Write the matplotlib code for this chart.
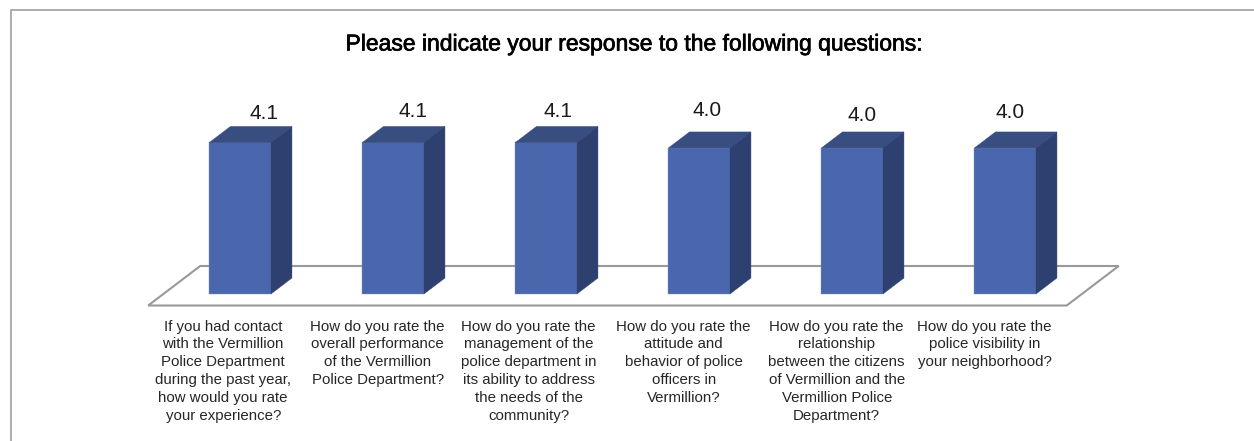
import matplotlib
matplotlib.use("Agg")
import matplotlib.pyplot as plt
import matplotlib.patheffects as pe
from matplotlib.patches import Polygon
from matplotlib.lines import Line2D

title = "Please indicate your response to the following questions:"
questions = [
    "If you had contact\nwith the Vermillion\nPolice Department\nduring the past year,\nhow would you rate\nyour experience?",
    "How do you rate the\noverall performance\nof the Vermillion\nPolice Department?",
    "How do you rate the\nmanagement of the\npolice department in\nits ability to address\nthe needs of the\ncommunity?",
    "How do you rate the\nattitude and\nbehavior of police\nofficers in\nVermillion?",
    "How do you rate the\nrelationship\nbetween the citizens\nof Vermillion and the\nVermillion Police\nDepartment?",
    "How do you rate the\npolice visibility in\nyour neighborhood?",
]
values = [4.13, 4.13, 4.13, 3.98, 3.98, 3.98]

W, H = 1254, 441
PX_X, PX_Y = 153.0, 36.7      # pixels per category / per value unit
X0_PX, Y0_PX = 240.2, 147.0   # pixel position of category 0 / value 0 (from bottom-left)
BAR_W = 61.5 / PX_X
DX, DY = 21 / PX_X, 16 / PX_Y
FRONT, TOP, SIDE, EDGE = "#4A67AE", "#384D80", "#2E4070", "#7F93C6"
GREY = "#999999"

# per-bar label nudges (pixels), matching the hand-placed labels of the original
value_dx = [24, 19.5, 11.5, 8, 10, 5]
value_dy = [-10, -8, -8, -1, -6, -3]
label_dx = [-17, -15.5, -17.5, -15.5, -15.5, -20.5]

plt.rcParams["font.family"] = ["Liberation Sans", "DejaVu Sans"]
fig = plt.figure(figsize=(W / 100, H / 100), dpi=100, facecolor="white")
ax = fig.add_axes([0, 0, 1, 1])
ax.set_xlim(-X0_PX / PX_X, (W - X0_PX) / PX_X)
ax.set_ylim(-Y0_PX / PX_Y, (H - Y0_PX) / PX_Y)
ax.axis("off")

# frame of the original picture
fig.add_artist(Line2D([11 / W, 11 / W, 1], [0, 1 - 9.5 / H, 1 - 9.5 / H],
                      transform=fig.transFigure, color="#A6A6A6", lw=1.3))

# floor
xf0 = -92 / PX_X
xf1 = 5 + 61.5 / PX_X
yf0 = -11.5 / PX_Y
yf1 = 28 / PX_Y
sk = 52 / PX_X
ax.add_patch(Polygon([(xf0, yf0), (xf1, yf0), (xf1 + sk, yf1), (xf0 + sk, yf1)],
                     closed=True, facecolor="white", edgecolor=GREY, lw=1.5, zorder=1))

xs = list(range(len(values)))
ax.bar(xs, values, width=BAR_W, color=FRONT, edgecolor=EDGE, linewidth=0.3, zorder=3)
for x, v in zip(xs, values):
    l, r = x - BAR_W / 2, x + BAR_W / 2
    ax.add_patch(Polygon([(l, v), (r, v), (r + DX, v + DY), (l + DX, v + DY)],
                         facecolor=TOP, edgecolor=TOP, lw=0.3, zorder=3))
    ax.add_patch(Polygon([(r, 0), (r + DX, DY), (r + DX, v + DY), (r, v)],
                         facecolor=SIDE, edgecolor=SIDE, lw=0.3, zorder=3))

for x, v, dx, dy in zip(xs, values, value_dx, value_dy):
    ax.annotate(f"{v:.1f}", (x, v + DY), xytext=(dx * 0.72, (13 + dy) * 0.72),
                textcoords="offset points", ha="center", va="bottom",
                fontsize=15, color="#1A1A1A", zorder=4)

for x, q, dx in zip(xs, questions, label_dx):
    ax.annotate(q, (x, yf0), xytext=(dx * 0.72, -14 * 0.72), textcoords="offset points",
                ha="center", va="top", fontsize=10.8, color="#262626",
                linespacing=1.35, zorder=4)

fig.text(634 / W, 1 - 44 / H, title, ha="center", va="center",
         fontsize=16.5, color="black",
         path_effects=[pe.withStroke(linewidth=0.5, foreground="black")])

fig.savefig("out.png", dpi=100, facecolor="white")
